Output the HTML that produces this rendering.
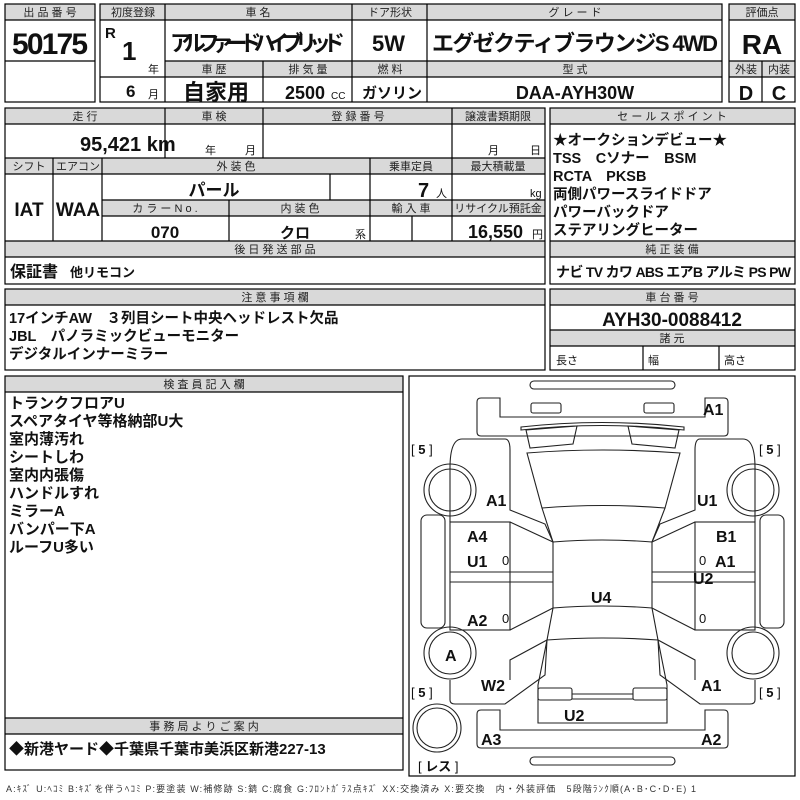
<!DOCTYPE html>
<html><head><meta charset="utf-8"><style>
html,body{margin:0;padding:0;background:#fff;}
svg{display:block;font-family:"Liberation Sans","Noto Sans CJK JP",sans-serif;}
.h{font-size:11px;fill:#222;text-anchor:middle;}
.b{font-weight:bold;fill:#111;}
.c{text-anchor:middle;}
</style></head><body>
<svg width="800" height="800" viewBox="0 0 800 800" xmlns="http://www.w3.org/2000/svg">
<g fill="#d9d9d9" stroke="none">
<rect x="5" y="4" width="90" height="16"/>
<rect x="100" y="4" width="622" height="16"/>
<rect x="165" y="61" width="557" height="16"/>
<rect x="729" y="4" width="66" height="16"/>
<rect x="729" y="61" width="66" height="16"/>
<rect x="5" y="108" width="540" height="16"/>
<rect x="5" y="158" width="540" height="16"/>
<rect x="102" y="200" width="443" height="16"/>
<rect x="5" y="241" width="540" height="16"/>
<rect x="550" y="108" width="245" height="16"/>
<rect x="550" y="241" width="245" height="16"/>
<rect x="5" y="289" width="540" height="16"/>
<rect x="550" y="289" width="245" height="16"/>
<rect x="550" y="330" width="245" height="16"/>
<rect x="5" y="376" width="398" height="16"/>
<rect x="5" y="718" width="398" height="16"/>
</g>
<g fill="none" stroke="#000" stroke-width="1.2">
<rect x="5" y="4" width="90" height="98"/>
<line x1="5" y1="20" x2="95" y2="20"/><line x1="5" y1="61" x2="95" y2="61"/>
<rect x="100" y="4" width="622" height="98"/>
<line x1="100" y1="20" x2="722" y2="20"/>
<line x1="165" y1="61" x2="722" y2="61"/><line x1="165" y1="77" x2="722" y2="77"/>
<line x1="100" y1="77" x2="165" y2="77"/>
<line x1="165" y1="4" x2="165" y2="102"/><line x1="352" y1="4" x2="352" y2="102"/>
<line x1="427" y1="4" x2="427" y2="102"/><line x1="263" y1="61" x2="263" y2="102"/>
<rect x="729" y="4" width="66" height="98"/>
<line x1="729" y1="20" x2="795" y2="20"/><line x1="729" y1="61" x2="795" y2="61"/><line x1="729" y1="77" x2="795" y2="77"/>
<line x1="762" y1="61" x2="762" y2="102"/>
<rect x="5" y="108" width="540" height="176"/>
<line x1="5" y1="124" x2="545" y2="124"/><line x1="5" y1="158" x2="545" y2="158"/><line x1="5" y1="174" x2="545" y2="174"/>
<line x1="102" y1="200" x2="545" y2="200"/><line x1="102" y1="216" x2="545" y2="216"/>
<line x1="5" y1="241" x2="545" y2="241"/><line x1="5" y1="257" x2="545" y2="257"/>
<line x1="165" y1="108" x2="165" y2="158"/><line x1="263" y1="108" x2="263" y2="158"/><line x1="452" y1="108" x2="452" y2="241"/>
<line x1="53" y1="158" x2="53" y2="241"/><line x1="102" y1="158" x2="102" y2="241"/><line x1="370" y1="158" x2="370" y2="241"/>
<line x1="330" y1="174" x2="330" y2="200"/><line x1="229" y1="200" x2="229" y2="241"/><line x1="412" y1="216" x2="412" y2="241"/>
<rect x="550" y="108" width="245" height="176"/>
<line x1="550" y1="124" x2="795" y2="124"/><line x1="550" y1="241" x2="795" y2="241"/><line x1="550" y1="257" x2="795" y2="257"/>
<rect x="5" y="289" width="540" height="81"/><line x1="5" y1="305" x2="545" y2="305"/>
<rect x="550" y="289" width="245" height="81"/>
<line x1="550" y1="305" x2="795" y2="305"/><line x1="550" y1="330" x2="795" y2="330"/><line x1="550" y1="346" x2="795" y2="346"/>
<line x1="643" y1="346" x2="643" y2="370"/><line x1="719" y1="346" x2="719" y2="370"/>
<rect x="5" y="376" width="398" height="394"/><line x1="5" y1="392" x2="403" y2="392"/>
<line x1="5" y1="718" x2="403" y2="718"/><line x1="5" y1="734" x2="403" y2="734"/>
<rect x="409" y="376" width="386" height="400"/>
</g>
<!-- header labels -->
<g class="h">
<text x="50" y="16">出 品 番 号</text><text x="133" y="16">初度登録</text><text x="258" y="16">車 名</text>
<text x="390" y="16">ドア形状</text><text x="575" y="16">グ レ ー ド</text><text x="762" y="16">評価点</text>
<text x="214" y="73">車 歴</text><text x="308" y="73">排 気 量</text><text x="390" y="73">燃 料</text><text x="575" y="73">型 式</text>
<text x="746" y="73">外装</text><text x="779" y="73">内装</text>
<text x="85" y="120">走 行</text><text x="214" y="120">車 検</text><text x="358" y="120">登 録 番 号</text><text x="498" y="120">譲渡書類期限</text>
<text x="29" y="170">シフト</text><text x="78" y="170">エアコン</text><text x="236" y="170">外 装 色</text><text x="411" y="170">乗車定員</text><text x="498" y="170">最大積載量</text>
<text x="165" y="212">カ ラ ー N o .</text><text x="300" y="212">内 装 色</text><text x="411" y="212">輸 入 車</text><text x="498" y="212">リサイクル預託金</text>
<text x="275" y="253">後 日 発 送 部 品</text>
<text x="672" y="120">セ ー ル ス ポ イ ン ト</text><text x="672" y="253">純 正 装 備</text>
<text x="275" y="301">注 意 事 項 欄</text><text x="672" y="301">車 台 番 号</text><text x="672" y="342">諸 元</text>
<text x="204" y="388">検 査 員 記 入 欄</text><text x="204" y="730">事 務 局 よ り ご 案 内</text>
</g>
<g class="b">
<text x="12" y="54" font-size="30" textLength="76">50175</text>
<text x="105" y="38" font-size="15">R</text>
<text x="122" y="60" font-size="26">1</text>
<text x="148" y="73" font-size="11" font-weight="normal">年</text>
<text x="126" y="97" font-size="17">6</text>
<text x="148" y="98" font-size="11" font-weight="normal">月</text>
<text x="170" y="51" font-size="22" textLength="175">アルファードハイブリッド</text>
<text x="372" y="51" font-size="22">5W</text>
<text x="432" y="51" font-size="22" textLength="286">エグゼクティブラウンジS 4WD</text>
<text x="762" y="54" font-size="28" class="c">RA</text>
<text x="746" y="100" font-size="20" class="c">D</text><text x="779" y="100" font-size="20" class="c">C</text>
<text x="183" y="100" font-size="22">自家用</text>
<text x="285" y="99" font-size="18">2500</text><text x="331" y="99" font-size="10" font-weight="normal">CC</text>
<text x="362" y="98" font-size="15">ガソリン</text>
<text x="575" y="99" font-size="18" class="c">DAA-AYH30W</text>
<text x="80" y="151" font-size="20">95,421 km</text>
<text x="205" y="154" font-size="11" font-weight="normal">年</text><text x="245" y="154" font-size="11" font-weight="normal">月</text>
<text x="488" y="154" font-size="11" font-weight="normal">月</text><text x="530" y="154" font-size="11" font-weight="normal">日</text>
<text x="29" y="216" font-size="19" class="c">IAT</text><text x="78" y="216" font-size="19" class="c">WAA</text>
<text x="214" y="196" font-size="17" class="c">パール</text>
<text x="418" y="197" font-size="20">7</text><text x="436" y="197" font-size="11" font-weight="normal">人</text>
<text x="530" y="197" font-size="11" font-weight="normal">kg</text>
<text x="165" y="238" font-size="17" class="c">070</text>
<text x="295" y="238" font-size="15" class="c">クロ</text><text x="355" y="238" font-size="11" font-weight="normal">系</text>
<text x="468" y="238" font-size="18">16,550</text><text x="532" y="238" font-size="11" font-weight="normal">円</text>
<text x="10" y="277" font-size="16">保証書</text><text x="70" y="277" font-size="13">他リモコン</text>
<g font-size="14.5">
<text x="553" y="145">★オークションデビュー★</text>
<text x="553" y="163">TSS　Cソナー　BSM</text>
<text x="553" y="181">RCTA　PKSB</text>
<text x="553" y="199">両側パワースライドドア</text>
<text x="553" y="217">パワーバックドア</text>
<text x="553" y="235">ステアリングヒーター</text>
<text x="9" y="323">17インチAW　３列目シート中央ヘッドレスト欠品</text>
<text x="9" y="341">JBL　パノラミックビューモニター</text>
<text x="9" y="359">デジタルインナーミラー</text>
</g>
<text x="556" y="277" font-size="14" textLength="235">ナビ TV カワ ABS エアB アルミ PS PW</text>
<text x="672" y="326" font-size="19" class="c">AYH30-0088412</text>
<g font-size="11" font-weight="normal"><text x="556" y="364">長さ</text><text x="648" y="364">幅</text><text x="724" y="364">高さ</text></g>
<g font-size="15">
<text x="9" y="408">トランクフロアU</text><text x="9" y="426">スペアタイヤ等格納部U大</text><text x="9" y="444">室内薄汚れ</text>
<text x="9" y="462">シートしわ</text><text x="9" y="480">室内内張傷</text><text x="9" y="498">ハンドルすれ</text>
<text x="9" y="516">ミラーA</text><text x="9" y="534">バンパー下A</text><text x="9" y="552">ルーフU多い</text>
</g>
<text x="9" y="754" font-size="15">◆新港ヤード◆千葉県千葉市美浜区新港227-13</text>
</g>
<text x="6" y="792" font-size="9" fill="#333" textLength="690">A:ｷｽﾞ U:ﾍｺﾐ B:ｷｽﾞを伴うﾍｺﾐ P:要塗装 W:補修跡 S:錆 C:腐食 G:ﾌﾛﾝﾄｶﾞﾗｽ点ｷｽﾞ XX:交換済み X:要交換　内・外装評価　5段階ﾗﾝｸ順(A･B･C･D･E) 1</text>
<!-- car diagram -->
<g fill="none" stroke="#222" stroke-width="1.1">
<rect x="530" y="381" width="145" height="8" rx="4"/>
<rect x="530" y="757" width="145" height="8" rx="4"/>
<path d="M481 398 H500 V417 H705 V398 H724 Q728 398 728 402 V432 Q728 436 724 436 H481 Q477 436 477 432 V402 Q477 398 481 398Z"/>
<rect x="531" y="403" width="30" height="10" rx="2"/><rect x="644" y="403" width="30" height="10" rx="2"/>
<path d="M481 748 H724 Q728 748 728 744 V714 Q728 710 724 710 H705 V730 H500 V710 H481 Q477 710 477 714 V744 Q477 748 481 748Z"/>
<path d="M521 427 Q602 418 684 427 L684 430 Q602 421 521 430Z"/>
<path d="M526 430 L577 426 L573 444 L530 448Z"/><path d="M628 426 L679 430 L675 448 L632 444Z"/>
<path d="M527 453 Q602 447 680 453 L665 508 Q602 503 542 508Z"/>
<path d="M542 508 L553 542 Q602 538 652 542 L665 508"/>
<path d="M553 542 L553 608 Q602 604 652 608 L652 542"/>
<path d="M553 608 L547 640 Q602 636 658 640 L652 608"/>
<path d="M547 640 L538 685 V723 H667 V685 L658 640"/>
<rect x="538" y="688" width="34" height="12" rx="2"/><rect x="633" y="688" width="34" height="12" rx="2"/>
<line x1="572" y1="694" x2="633" y2="694"/><line x1="572" y1="699" x2="633" y2="699"/>
<path d="M450 522 V468 Q450 439 462 439 H505 Q510 439 510 450 V510 L545 524 L553 542"/>
<path d="M755 522 V468 Q755 439 743 439 H700 Q695 439 695 450 V510 L660 524 L652 542"/>
<rect x="450" y="522" width="60" height="108"/><rect x="695" y="522" width="60" height="108"/>
<path d="M510 522 L553 542 M510 630 L553 608 M695 522 L652 542 M695 630 L652 608"/>
<line x1="450" y1="572" x2="553" y2="572"/><line x1="450" y1="582" x2="553" y2="582"/>
<line x1="652" y1="572" x2="755" y2="572"/><line x1="652" y1="582" x2="755" y2="582"/>
<rect x="421" y="515" width="24" height="113" rx="6"/><rect x="760" y="515" width="24" height="113" rx="6"/>
<path d="M450 680 V700 Q450 704 455 704 H505 L545 675 L547 640 L510 660 V680"/>
<path d="M755 680 V700 Q755 704 750 704 H700 L660 675 L658 640 L695 660 V680"/>
<circle cx="450" cy="490" r="26"/><circle cx="450" cy="490" r="21"/>
<circle cx="450" cy="653" r="26"/><circle cx="450" cy="653" r="21"/>
<circle cx="753" cy="490" r="26"/><circle cx="753" cy="490" r="21"/>
<circle cx="753" cy="653" r="26"/><circle cx="753" cy="653" r="21"/>
<circle cx="437" cy="728" r="24"/><circle cx="437" cy="728" r="20"/>
</g>
<g class="b" font-size="16">
<text x="703" y="415">A1</text><text x="486" y="506">A1</text><text x="697" y="506">U1</text>
<text x="467" y="542">A4</text><text x="467" y="567">U1</text><text x="716" y="542">B1</text><text x="715" y="567">A1</text>
<text x="693" y="584">U2</text><text x="591" y="603">U4</text><text x="467" y="626">A2</text>
<text x="445" y="661">A</text><text x="481" y="691">W2</text><text x="701" y="691">A1</text>
<text x="564" y="721">U2</text><text x="481" y="745">A3</text><text x="701" y="745">A2</text>
</g>
<g font-size="13" fill="#111">
<text x="502" y="565">0</text><text x="502" y="623">0</text><text x="699" y="565">0</text><text x="699" y="623">0</text>
<text x="411" y="454">[ <tspan font-weight="bold">5</tspan> ]</text><text x="759" y="454">[ <tspan font-weight="bold">5</tspan> ]</text>
<text x="411" y="697">[ <tspan font-weight="bold">5</tspan> ]</text><text x="759" y="697">[ <tspan font-weight="bold">5</tspan> ]</text>
<text x="418" y="771">[ <tspan font-weight="bold">レス</tspan> ]</text>
</g>
</svg>
</body></html>
